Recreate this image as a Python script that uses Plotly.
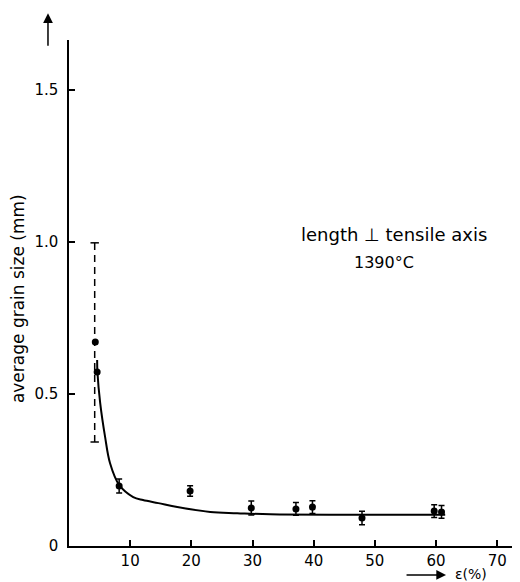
import plotly.graph_objects as go

# Measured points (strain %, average grain size mm)
pt_x = [8.2, 19.8, 29.8, 37.1, 39.8, 47.9, 59.7, 60.9]
pt_y = [0.197, 0.181, 0.125, 0.122, 0.128, 0.092, 0.115, 0.112]
pt_err = [0.023, 0.017, 0.023, 0.021, 0.021, 0.022, 0.021, 0.021]

# Points without a solid error bar
free_x = [4.3, 4.6]
free_y = [0.671, 0.572]

# Dashed error range of the first point
dash_x = [4.2, 4.2]
dash_y = [0.342, 0.997]

# Fitted curve
curve_x = [4.6, 4.65, 5.1, 5.9, 6.7, 8.2, 10.5, 12.1, 14.6, 17.7, 23.1, 27.5, 32.9, 48.0, 61.5]
curve_y = [0.612, 0.572, 0.470, 0.359, 0.273, 0.201, 0.161, 0.151, 0.141, 0.128, 0.112, 0.108, 0.104, 0.103, 0.103]

x_ticks = [10, 20, 30, 40, 50, 60, 70]
x_tick_text = ["10", "20", "30", "40", "50", "60", "70"]
y_ticks = [0, 0.5, 1.0, 1.5]
y_tick_text = ["0", "0.5", "1.0", "1.5"]

FONT = "DejaVu Sans"

fig = go.Figure()
fig.add_trace(go.Scatter(x=curve_x, y=curve_y, mode="lines",
                         line=dict(color="black", width=2, shape="spline", smoothing=1.0),
                         hoverinfo="skip"))
fig.add_trace(go.Scatter(x=dash_x, y=dash_y, mode="lines+markers",
                         line=dict(color="black", width=1.5, dash="7px,5px"),
                         marker=dict(symbol="line-ew", size=6, line=dict(color="black", width=1.5))))
fig.add_trace(go.Scatter(x=free_x, y=free_y, mode="markers",
                         marker=dict(symbol="circle", size=7, color="black")))
fig.add_trace(go.Scatter(x=pt_x, y=pt_y, mode="markers",
                         marker=dict(symbol="circle", size=7, color="black"),
                         error_y=dict(type="data", array=pt_err, color="black", thickness=1.5, width=3)))

fig.update_layout(
    width=512, height=574,
    margin=dict(l=61, r=0, t=32, b=36),
    paper_bgcolor="white", plot_bgcolor="white",
    showlegend=False,
    font=dict(family=FONT, color="black", size=15),
    xaxis=dict(range=[0, 73.73], showgrid=False, zeroline=False, automargin=False,
               showline=True, linecolor="black", linewidth=1.5,
               tickmode="array", tickvals=x_ticks, ticktext=x_tick_text,
               ticks="inside", ticklen=6, tickwidth=1.5, tickcolor="black",
               tickfont=dict(family=FONT, size=15)),
    yaxis=dict(range=[0, 1.664], showgrid=False, zeroline=False, automargin=False,
               showline=True, linecolor="black", linewidth=1.5,
               tickmode="array", tickvals=y_ticks, ticktext=y_tick_text,
               ticks="inside", ticklen=6, tickwidth=1.5, tickcolor="black",
               ticklabelstandoff=6,
               tickfont=dict(family=FONT, size=15)),
)

# y-axis title
fig.add_annotation(text="average grain size (mm)", xref="paper", yref="paper",
                   x=-0.113, y=0.488, textangle=-90, showarrow=False,
                   xanchor="center", yanchor="middle", font=dict(family=FONT, size=17))
# y arrow
fig.add_annotation(text="", xref="paper", yref="paper", x=-0.0466, y=1.053,
                   ax=0, ay=34, showarrow=True, arrowhead=2, arrowsize=1.3,
                   arrowwidth=1.5, arrowcolor="black")
# x arrow + label
fig.add_annotation(text="", xref="paper", yref="paper", x=0.836, y=-0.0573,
                   ax=-41, ay=0, showarrow=True, arrowhead=2, arrowsize=1.3,
                   arrowwidth=1.5, arrowcolor="black")
fig.add_annotation(text="ε(%)", xref="paper", yref="paper", x=0.852, y=-0.0545,
                   showarrow=False, xanchor="left", yanchor="middle",
                   font=dict(family=FONT, size=14))
# in-plot text
fig.add_annotation(text="length ⊥ tensile axis", x=53.2, y=1.023, showarrow=False,
                   xanchor="center", yanchor="middle", font=dict(family=FONT, size=18))
fig.add_annotation(text="1390°C", x=51.5, y=0.931, showarrow=False,
                   xanchor="center", yanchor="middle", font=dict(family=FONT, size=16))

fig.write_html("out.html")
